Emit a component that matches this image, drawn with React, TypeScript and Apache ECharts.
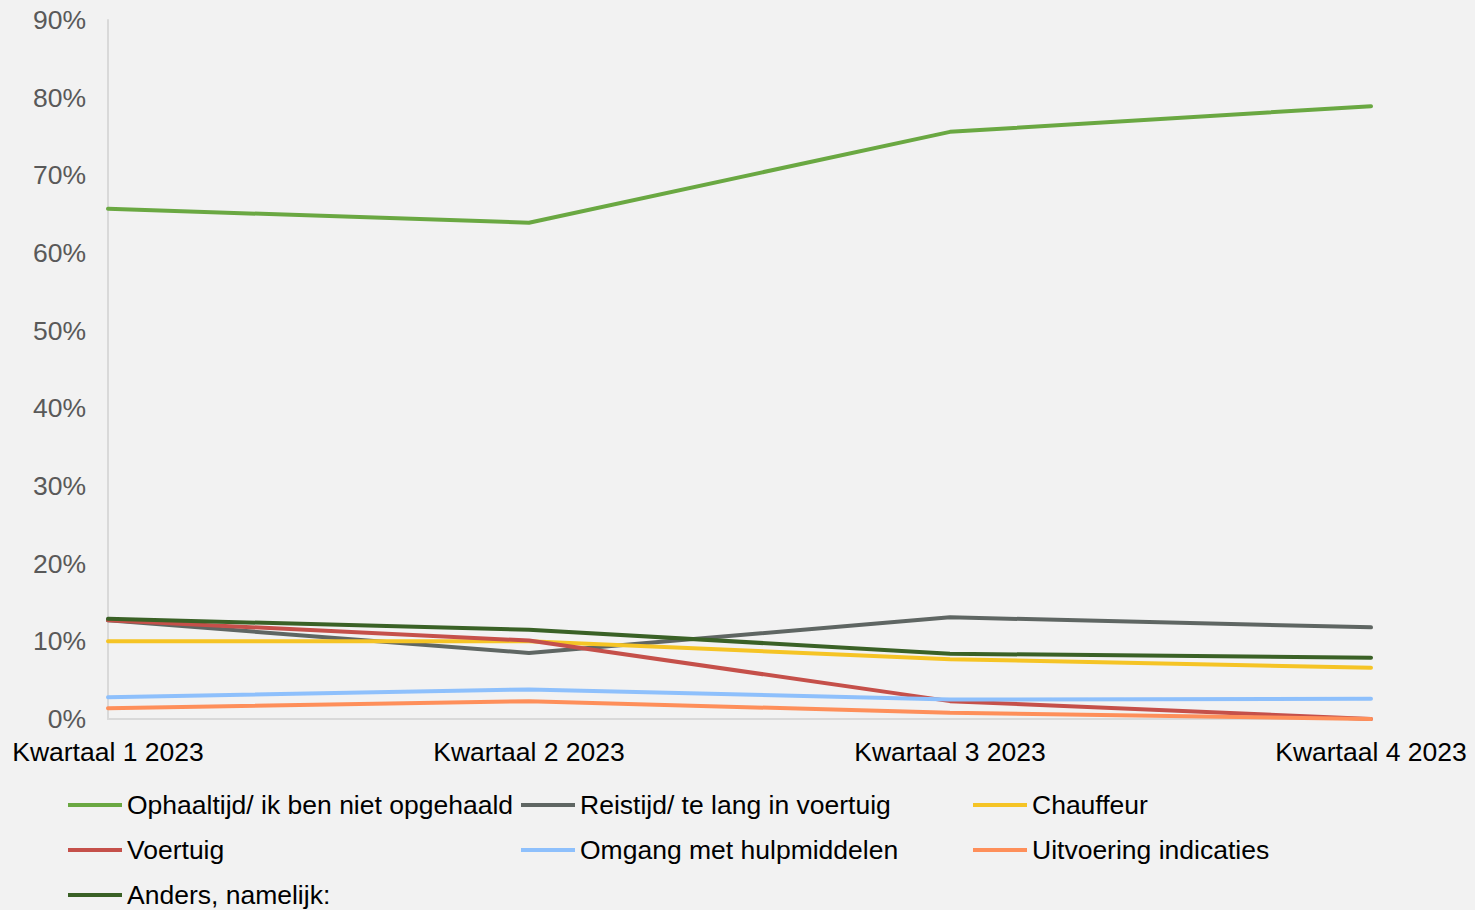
import React, { useEffect, useRef } from "react";
import * as echarts from "echarts";

const categories = ["Kwartaal 1 2023", "Kwartaal 2 2023", "Kwartaal 3 2023", "Kwartaal 4 2023"];
const ophaaltijd = [65.7, 63.9, 75.6, 78.9];
const reistijd = [12.7, 8.5, 13.1, 11.8];
const chauffeur = [10.0, 10.0, 7.7, 6.6];
const voertuig = [12.7, 10.1, 2.3, 0.0];
const omgang = [2.8, 3.8, 2.5, 2.6];
const uitvoering = [1.4, 2.3, 0.8, 0.0];
const anders = [12.9, 11.5, 8.4, 7.9];

const seriesDefs = [
  { name: "Ophaaltijd/ ik ben niet opgehaald", data: ophaaltijd, color: "#6aa842" },
  { name: "Reistijd/ te lang in voertuig", data: reistijd, color: "#5f6663" },
  { name: "Chauffeur", data: chauffeur, color: "#f5c425" },
  { name: "Voertuig", data: voertuig, color: "#c5504a" },
  { name: "Omgang met hulpmiddelen", data: omgang, color: "#8ec0fc" },
  { name: "Uitvoering indicaties", data: uitvoering, color: "#fe8f5a" },
  { name: "Anders, namelijk:", data: anders, color: "#3a6126" },
];

const legendCols = [
  { left: 68, names: ["Ophaaltijd/ ik ben niet opgehaald", "Voertuig", "Anders, namelijk:"] },
  { left: 521, names: ["Reistijd/ te lang in voertuig", "Omgang met hulpmiddelen"] },
  { left: 973, names: ["Chauffeur", "Uitvoering indicaties"] },
];

const FONT = "'Liberation Sans', Arial, sans-serif";
const FS = 26.5;

export default function App() {
  const ref = useRef<HTMLDivElement>(null);
  useEffect(() => {
    if (!ref.current) return;
    const chart = echarts.init(ref.current, null, { renderer: "svg" });
    chart.setOption({
      animation: false,
      backgroundColor: "#f2f2f2",
      grid: { left: 108, right: 104, top: 20, bottom: 191 },
      legend: legendCols.map((c) => ({
        left: c.left,
        top: 790,
        padding: 0,
        orient: "vertical",
        itemGap: 15,
        itemWidth: 54,
        itemHeight: 4,
        icon: "rect",
        data: c.names,
        textStyle: { fontFamily: FONT, fontSize: FS, color: "#000", lineHeight: 30 },
      })),
      xAxis: {
        type: "category",
        data: categories,
        boundaryGap: false,
        axisLine: { show: true, lineStyle: { color: "#d9d9d9", width: 2 } },
        axisTick: { show: false },
        axisLabel: { fontFamily: FONT, fontSize: FS, color: "#000", margin: 19 },
      },
      yAxis: {
        type: "value",
        min: 0,
        max: 90,
        interval: 10,
        axisLine: { show: true, lineStyle: { color: "#d9d9d9", width: 2 } },
        axisTick: { show: false },
        splitLine: { show: false },
        axisLabel: {
          fontFamily: FONT,
          fontSize: FS,
          color: "#595959",
          margin: 22,
          formatter: (v: number) => v + "%",
        },
      },
      series: seriesDefs.map((s) => ({
        name: s.name,
        type: "line",
        data: s.data,
        symbol: "none",
        color: s.color,
        itemStyle: { color: s.color },
        lineStyle: { width: 4, color: s.color, cap: "round" },
      })),
    });
    return () => chart.dispose();
  }, []);
  return (
    <div
      ref={ref}
      style={{ position: "fixed", left: 0, top: 0, width: 1475, height: 910 }}
    />
  );
}
